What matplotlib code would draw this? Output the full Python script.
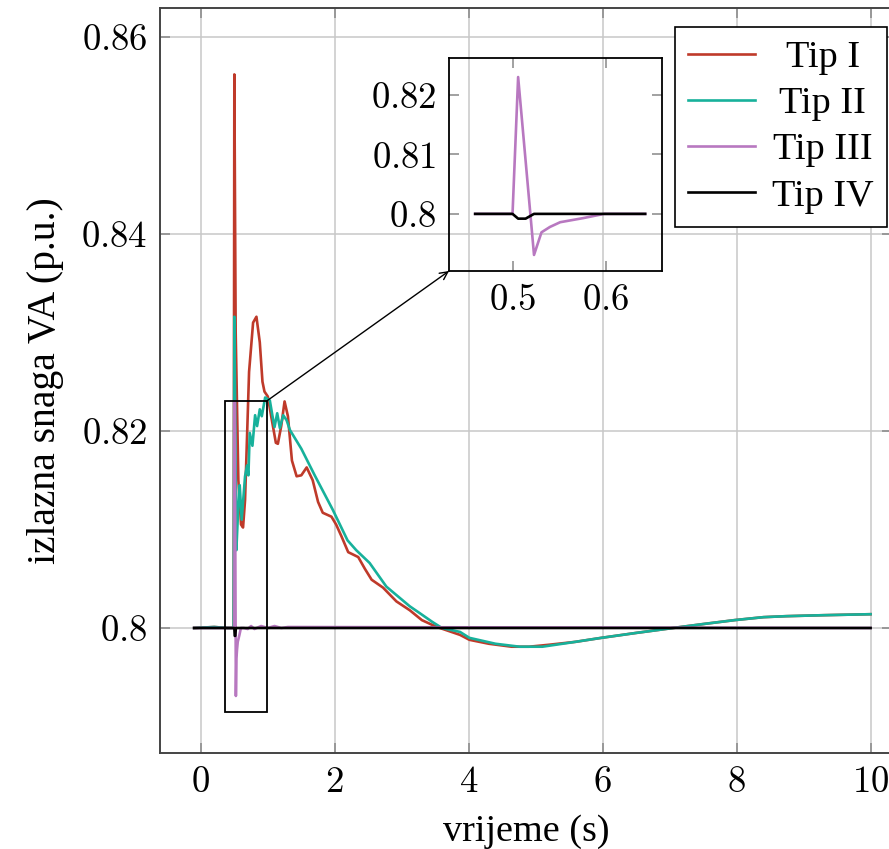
import numpy as np
import matplotlib
matplotlib.use('Agg')
from matplotlib import pyplot as plt
from matplotlib.patches import Rectangle, ConnectionPatch
from matplotlib.ticker import FuncFormatter

plt.rcParams['font.family'] = ['Liberation Serif', 'DejaVu Serif']
plt.rcParams['mathtext.fontset'] = 'cm'

# Tip I
t1 = [-0.1, 0.2, 0.4, 0.49, 0.5, 0.52, 0.56, 0.6, 0.63, 0.66, 0.72, 0.78, 0.83, 0.88, 0.92,
      0.95, 1.0, 1.05, 1.12, 1.15, 1.2, 1.25, 1.3, 1.36, 1.43, 1.5, 1.58, 1.67, 1.75, 1.82,
      1.95, 2.02, 2.1, 2.2, 2.35, 2.45, 2.55, 2.72, 2.82, 2.92, 3.12, 3.3, 3.46, 3.57, 3.87,
      4.01, 4.3, 4.64, 4.9, 5.2, 5.6, 5.98, 6.5, 7.05, 7.5, 7.97, 8.4, 8.74, 9.3, 10.0]
v1 = [0.8, 0.8001, 0.8, 0.8, 0.8562, 0.83, 0.815, 0.8105, 0.8102, 0.813, 0.826, 0.831, 0.8316,
      0.829, 0.825, 0.824, 0.8235, 0.8215, 0.8188, 0.8187, 0.8205, 0.823, 0.8215, 0.817, 0.8154,
      0.8155, 0.8163, 0.815, 0.8128, 0.8117, 0.8113, 0.8105, 0.8093, 0.8077, 0.8072, 0.806,
      0.8049, 0.8041, 0.8034, 0.8027, 0.8018, 0.8008, 0.8003, 0.8, 0.7993, 0.7988, 0.7984,
      0.7981, 0.7981, 0.7983, 0.7986, 0.799, 0.7995, 0.8, 0.8004, 0.8008, 0.8011, 0.8012,
      0.8013, 0.8014]

# Tip II
t2 = [-0.1, 0.2, 0.4, 0.49, 0.5, 0.53, 0.56, 0.58, 0.61, 0.66, 0.69, 0.71, 0.73, 0.77, 0.81,
      0.84, 0.88, 0.91, 0.96, 1.03, 1.07, 1.1, 1.14, 1.18, 1.23, 1.28, 1.33, 1.5, 1.7, 1.97,
      2.19, 2.32, 2.52, 2.77, 3.12, 3.27, 3.46, 3.6, 3.87, 4.01, 4.4, 4.76, 5.1, 5.5, 5.98,
      6.5, 7.05, 7.5, 7.97, 8.4, 8.74, 9.3, 10.0]
v2 = [0.8, 0.8001, 0.8, 0.8, 0.8316, 0.8079, 0.8125, 0.8145, 0.811, 0.8154, 0.8165, 0.8155,
      0.8198, 0.8185, 0.8216, 0.8205, 0.8222, 0.8215, 0.8234, 0.8231, 0.8215, 0.8204, 0.8218,
      0.8203, 0.8216, 0.8211, 0.8201, 0.8182, 0.8155, 0.812, 0.8089, 0.8079, 0.8066, 0.8042,
      0.8022, 0.8015, 0.8006, 0.8, 0.7996, 0.799, 0.7984, 0.7981, 0.7981, 0.7985, 0.799,
      0.7995, 0.8, 0.8004, 0.8008, 0.8011, 0.8012, 0.8013, 0.8014]

# Tip III
t3 = [-0.1, 0.46, 0.5, 0.506, 0.523, 0.531, 0.54, 0.551, 0.576, 0.598, 0.642, 0.7, 0.75, 0.8,
      0.9, 1.0, 1.1, 1.2, 1.3, 10.0]
v3 = [0.8, 0.8, 0.8, 0.823, 0.7931, 0.7969, 0.7978, 0.7986, 0.7993, 0.8, 0.8, 0.7999, 0.8002,
      0.7999, 0.8002, 0.8, 0.8002, 0.8, 0.8001, 0.8]

# Tip IV
t4 = [-0.1, 0.46, 0.5, 0.506, 0.514, 0.523, 0.642, 10.0]
v4 = [0.8, 0.8, 0.8, 0.7992, 0.7992, 0.8, 0.8, 0.8]

labels = ["Tip I", "Tip II", "Tip III", "Tip IV"]
colors = ["#bf3a2a", "#17b19b", "#b878c0", "black"]
series = [(t1, v1), (t2, v2), (t3, v3), (t4, v4)]

fig = plt.figure(figsize=(8.89, 8.49), dpi=100)
ax = fig.add_axes([160/889, 1-753/849, 732/889, 745/849])

for (t, v), c, lab in zip(series, colors, labels):
    ax.plot(t, v, color=c, lw=1.9, label=lab)

ax.set_xlim(-0.61, 10.32)
ax.set_ylim(0.78731, 0.86294)
ax.set_xticks([0, 2, 4, 6, 8, 10])
ax.set_yticks([0.8, 0.82, 0.84, 0.86])
fmt = FuncFormatter(lambda v, p: "${:g}$".format(round(v, 3)))
ax.xaxis.set_major_formatter(fmt)
ax.yaxis.set_major_formatter(fmt)
ax.grid(True, color="#c8c8c8", lw=1.1)
ax.set_axisbelow(True)
ax.tick_params(direction="in", length=7, width=1.1, color="#888888", labelsize=26.5,
               top=True, right=True, pad=9)
for s in ax.spines.values():
    s.set_color("#444444")
    s.set_linewidth(1.4)
ax.set_xlabel("vrijeme (s)", fontsize=27.5, labelpad=10)
ax.set_ylabel("izlazna snaga VA (p.u.)", fontsize=28.5, labelpad=12)

leg = ax.legend(loc="upper right", bbox_to_anchor=(887/889, 1-27/849),
                bbox_transform=fig.transFigure, borderaxespad=0, fontsize=27.5,
                fancybox=False, edgecolor="black", framealpha=1, handlelength=1.75,
                labelspacing=0.3, borderpad=0.35, handletextpad=0.45)
leg.get_frame().set_linewidth(1.2)

# zoom box
ax.add_patch(Rectangle((0.358, 0.79147), 0.627, 0.03158, fill=False, ec="black", lw=1.3, zorder=5))

# inset
ins = fig.add_axes([449/889, 1-271/849, 213/889, 213/849])
ins.patch.set_alpha(0)
for (t, v), c in zip(series[2:], colors[2:]):
    t = np.array(t)
    v = np.array(v)
    m = (t >= 0.46) & (t <= 0.642)
    ins.plot(t[m], v[m], color=c, lw=1.9)
ins.set_xlim(0.432, 0.66)
ins.set_ylim(0.7904, 0.8262)
ins.set_xticks([0.5, 0.6])
ins.set_yticks([0.8, 0.81, 0.82])
ins.xaxis.set_major_formatter(fmt)
ins.yaxis.set_major_formatter(fmt)
ins.tick_params(direction="in", length=7, width=1.1, color="#888888", labelsize=26.5,
                top=True, right=True, pad=9)
for s in ins.spines.values():
    s.set_color("black")
    s.set_linewidth(1.3)

con = ConnectionPatch(xyA=(0.985, 0.82305), coordsA=ax.transData,
                      xyB=(0.432, 0.7904), coordsB=ins.transData,
                      arrowstyle="->", color="black", lw=1.0, mutation_scale=14)
fig.add_artist(con)

# centre legend texts within their column, as in the original
fig.canvas.draw()
texts = leg.get_texts()
widths = [tx.get_window_extent().width for tx in texts]
wmax = max(widths)
for tx, w in zip(texts, widths):
    tx.set_x((wmax - w) / 2)

fig.savefig("out.png", dpi=100)
